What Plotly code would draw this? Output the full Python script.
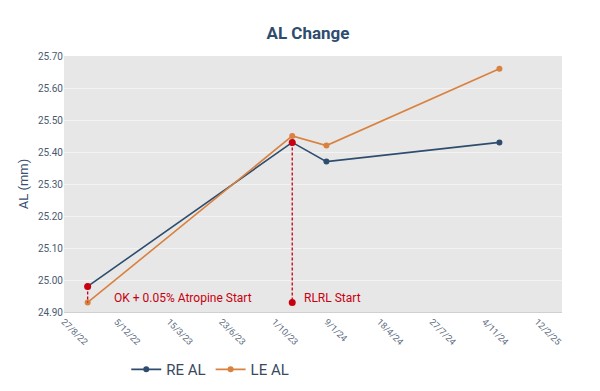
import plotly.graph_objects as go

dates = ["2022-10-11", "2023-11-04", "2024-01-08", "2024-12-02"]
re_al = [24.98, 25.43, 25.37, 25.43]
le_al = [24.93, 25.45, 25.42, 25.66]

event_dates = ["2022-10-11", "2023-11-04"]
event_top = [24.98, 25.43]
event_bottom = [24.93, 24.93]
event_labels = ["OK + 0.05% Atropine Start", "RLRL Start"]

RE_C = "#2E4D6E"
LE_C = "#D9813F"
RED = "#C8000F"
FONT = "Roboto"

fig = go.Figure()
fig.add_trace(go.Scatter(x=dates, y=re_al, name="RE AL", mode="lines+markers",
                         line=dict(color=RE_C, width=1.6), marker=dict(size=6, color=RE_C)))
fig.add_trace(go.Scatter(x=dates, y=le_al, name="LE AL", mode="lines+markers",
                         line=dict(color=LE_C, width=1.6), marker=dict(size=6, color=LE_C)))

for d, top, bot in zip(event_dates, event_top, event_bottom):
    fig.add_trace(go.Scatter(x=[d, d], y=[top, bot], mode="lines",
                             line=dict(color=RED, width=1.3, dash="3px,2px"),
                             showlegend=False, hoverinfo="skip"))
fig.add_trace(go.Scatter(x=[event_dates[0], event_dates[1], event_dates[1]],
                         y=[event_top[0], event_top[1], event_bottom[1]],
                         mode="markers", marker=dict(size=7, color=RED),
                         showlegend=False, hoverinfo="skip"))

for d, lab, xs in zip(event_dates, event_labels, [24, 10]):
    fig.add_annotation(x=d, y=24.944, text=lab, showarrow=False, xanchor="left",
                       xshift=xs, font=dict(color=RED, size=12, family=FONT))

fig.update_layout(
    width=600, height=391,
    margin=dict(l=56, r=46, t=48, b=87),
    paper_bgcolor="white", plot_bgcolor="#E7E7E7",
    font=dict(family=FONT, color="#44546A"),
    title=dict(text="<b>AL Change</b>", x=0.5, xanchor="center", y=0.936, yanchor="middle",
               font=dict(size=17, color="#2E4D6E", family=FONT)),
    legend=dict(orientation="h", x=0.125, xanchor="left", y=-0.225, yanchor="middle",
                font=dict(size=15, color="#3A4A5E", family=FONT), itemwidth=30,
                bgcolor="rgba(0,0,0,0)"),
    showlegend=True,
)
fig.update_xaxes(type="date", range=["2022-08-27", "2025-03-31"], tick0="2022-08-27",
                 dtick=100 * 86400000, tickformat="%-d/%-m/%y", tickangle=45, automargin=False,
                 tickfont=dict(size=9, color="#5A6A80"), showgrid=False,
                 showline=True, linecolor="#D0D0D0", zeroline=False)
fig.update_yaxes(range=[24.9, 25.7], dtick=0.1, tickformat=".2f", automargin=False,
                 tickfont=dict(size=10, color="#4A5A70"), gridcolor="#F3F3F3", gridwidth=1,
                 zeroline=False,
                 title=dict(text="AL (mm)", font=dict(size=13, color="#3A5070"), standoff=6))

fig.write_html("out.html")
